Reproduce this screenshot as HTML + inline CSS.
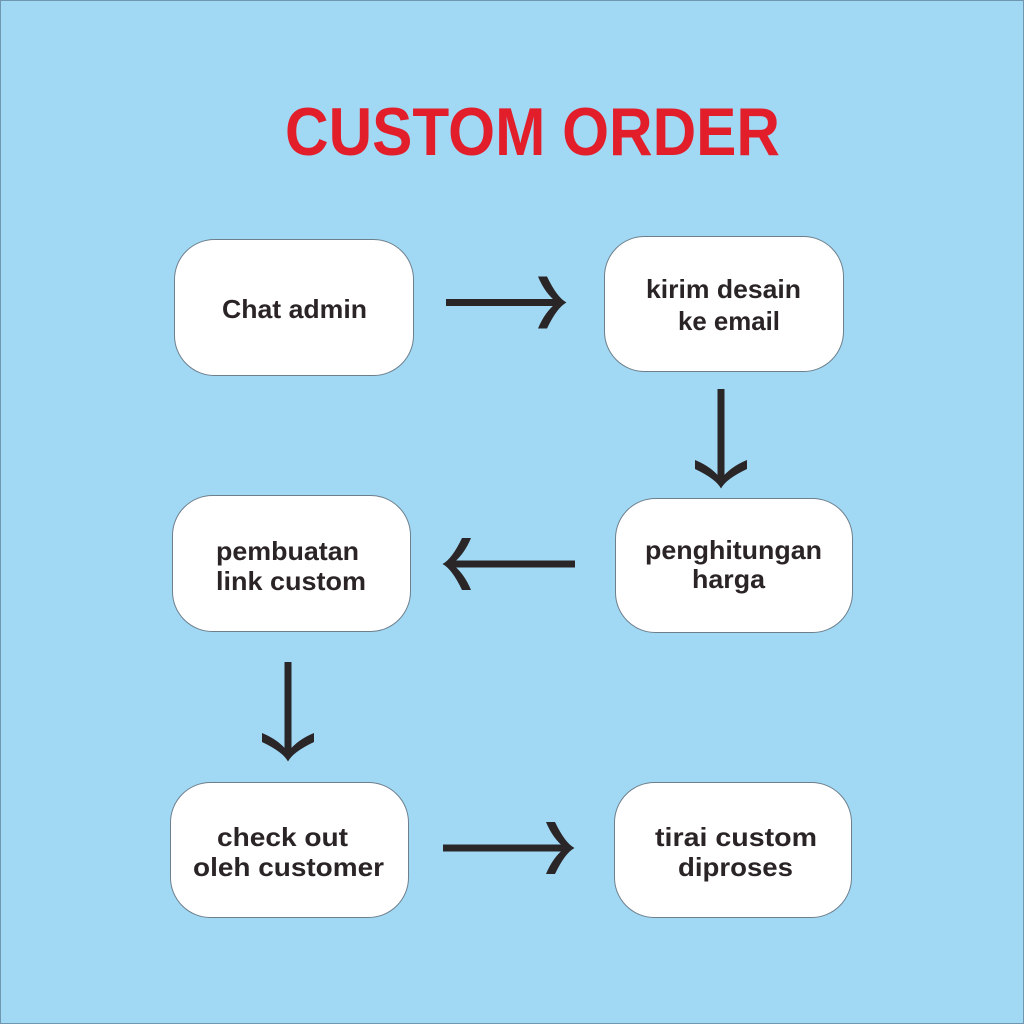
<!DOCTYPE html>
<html>
<head>
<meta charset="utf-8">
<style>
html,body{margin:0;padding:0;background:#a1d9f5;}
svg{display:block;}
</style>
</head>
<body>
<svg width="1024" height="1024" viewBox="0 0 1024 1024" xmlns="http://www.w3.org/2000/svg">
  <defs>
    <path id="ah" d="M0.5,0 Q-9,-5 -19,-26 L-28,-26 Q-21,-9 -9,0 Q-21,9 -28,26 L-19,26 Q-9,5 0.5,0 Z" fill="#2a2527"/>
  </defs>
  <rect x="0" y="0" width="1024" height="1024" fill="#a1d9f5"/>
  <rect x="0.5" y="0.5" width="1023" height="1023" fill="none" stroke="#6f97ae" stroke-width="1"/>

  <text x="285" y="155" font-family="Liberation Sans, sans-serif" font-weight="bold" font-size="68" fill="#e21e2b" textLength="495" lengthAdjust="spacingAndGlyphs">CUSTOM ORDER</text>

  <g fill="#ffffff" stroke="#6e7f8c" stroke-width="1">
    <rect x="174.5" y="239.5" width="239" height="136" rx="40" ry="40"/>
    <rect x="604.5" y="236.5" width="239" height="135" rx="40" ry="40"/>
    <rect x="615.5" y="498.5" width="237" height="134" rx="40" ry="40"/>
    <rect x="172.5" y="495.5" width="238" height="136" rx="40" ry="40"/>
    <rect x="170.5" y="782.5" width="238" height="135" rx="40" ry="40"/>
    <rect x="614.5" y="782.5" width="237" height="135" rx="40" ry="40"/>
  </g>

  <g font-family="Liberation Sans, sans-serif" font-weight="bold" font-size="26" fill="#2b2426">
    <text x="222" y="318" textLength="145" lengthAdjust="spacingAndGlyphs">Chat admin</text>
    <text x="646" y="298" textLength="155" lengthAdjust="spacingAndGlyphs">kirim desain</text>
    <text x="678" y="330" textLength="102" lengthAdjust="spacingAndGlyphs">ke email</text>
    <text x="645" y="559" textLength="177" lengthAdjust="spacingAndGlyphs">penghitungan</text>
    <text x="692" y="588" textLength="73" lengthAdjust="spacingAndGlyphs">harga</text>
    <text x="216" y="560" textLength="143" lengthAdjust="spacingAndGlyphs">pembuatan</text>
    <text x="216" y="590" textLength="150" lengthAdjust="spacingAndGlyphs">link custom</text>
    <text x="217" y="846" textLength="131" lengthAdjust="spacingAndGlyphs">check out</text>
    <text x="193" y="876" textLength="191" lengthAdjust="spacingAndGlyphs">oleh customer</text>
    <text x="655" y="846" textLength="162" lengthAdjust="spacingAndGlyphs">tirai custom</text>
    <text x="678" y="876" textLength="115" lengthAdjust="spacingAndGlyphs">diproses</text>
  </g>

  <g fill="#2a2527">
    <!-- A1 right -->
    <rect x="446" y="299" width="112" height="7"/>
    <use href="#ah" transform="translate(566,302.5)"/>
    <!-- A2 down -->
    <rect x="717.5" y="389" width="7" height="92"/>
    <use href="#ah" transform="translate(721,488) rotate(90)"/>
    <!-- A3 left -->
    <rect x="451" y="560.5" width="124" height="7"/>
    <use href="#ah" transform="translate(443,564) rotate(180)"/>
    <!-- A4 down -->
    <rect x="284.5" y="662" width="7" height="92"/>
    <use href="#ah" transform="translate(288,761) rotate(90)"/>
    <!-- A5 right -->
    <rect x="443" y="844.5" width="123" height="7"/>
    <use href="#ah" transform="translate(574,848)"/>
  </g>
</svg>
</body>
</html>
